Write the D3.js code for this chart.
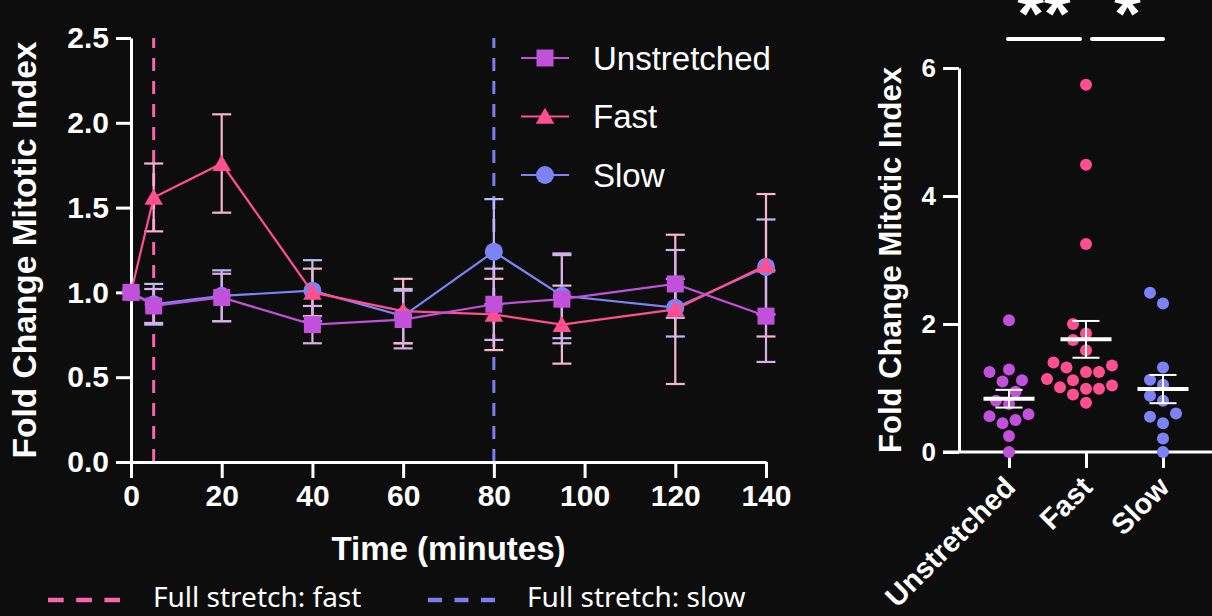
<!DOCTYPE html>
<html>
<head>
<meta charset="utf-8">
<script src="https://cdn.jsdelivr.net/npm/d3@7"></script>
<style>
  html, body { margin: 0; padding: 0; background: #0d0d0d; }
  svg { display: block; font-family: "Liberation Sans", Arial, sans-serif; }
  .axis path, .axis line { stroke: #fff; stroke-width: 3; }
  .axis text { fill: #fff; font-weight: bold; }
</style>
</head>
<body>
<svg id="fig" width="1212" height="616"></svg>
<script>
// time course (left panel)
var times = [0, 5, 20, 40, 60, 80, 95, 120, 140];
var unstretchedMean = [1.00, 0.92, 0.97, 0.81, 0.84, 0.93, 0.96, 1.05, 0.86];
var unstretchedSem  = [0, 0.10, 0.14, 0.11, 0.17, 0.21, 0.26, 0.20, 0.27];
var fastMean = [1.00, 1.56, 1.76, 1.00, 0.89, 0.87, 0.81, 0.90, 1.16];
var fastSem  = [0, 0.20, 0.29, 0.14, 0.19, 0.21, 0.23, 0.44, 0.42];
var slowMean = [1.00, 0.93, 0.98, 1.01, 0.86, 1.24, 0.98, 0.91, 1.15];
var slowSem  = [0, 0.12, 0.15, 0.18, 0.16, 0.31, 0.25, 0.17, 0.28];
var stretchTimes = [5, 80];
var yTicksLeft = [0, 0.5, 1.0, 1.5, 2.0, 2.5];
var xTicksLeft = [0, 20, 40, 60, 80, 100, 120, 140];

// individual values (right panel)
var dotCategories = ["Unstretched", "Fast", "Slow"];
var unstretchedDots = [2.06, 1.29, 1.25, 1.12, 1.10, 0.94, 0.80, 0.75, 0.59, 0.56, 0.50, 0.45, 0.25, 0.00];
var fastDots = [5.74, 4.49, 3.25, 2.00, 1.85, 1.75, 1.59, 1.40, 1.35, 1.32, 1.25, 1.25, 1.14, 1.12, 1.04, 1.01, 0.99, 0.99, 0.90, 0.77];
var slowDots = [2.49, 2.32, 1.32, 1.13, 1.05, 0.88, 0.80, 0.60, 0.55, 0.45, 0.21, 0.00];
var yTicksRight = [0, 2, 4, 6];
var sigLabels = ["**", "*"];

var colors = { Unstretched: "#c150da", Fast: "#ff4f8e", Slow: "#7d83f6" };
var barColors = { Unstretched: "#d6b0e6", Fast: "#f6b6cd", Slow: "#bbbbf2" };

var svg = d3.select("#fig");
svg.append("rect").attr("width", 1212).attr("height", 616).attr("fill", "#0d0d0d");

// ---------- left panel ----------
var x = d3.scaleLinear().domain([0, 140]).range([131, 766]);
var y = d3.scaleLinear().domain([0, 2.5]).range([462, 38]);

var left = svg.append("g");

// full stretch markers
left.selectAll(".stretch")
  .data(stretchTimes)
  .enter().append("line")
  .attr("x1", function(d) { return x(d); })
  .attr("x2", function(d) { return x(d); })
  .attr("y1", y(0)).attr("y2", y(2.5))
  .attr("stroke", function(d, i) { return i == 0 ? "#f766a8" : "#7b7ff0"; })
  .attr("stroke-width", 3)
  .attr("stroke-dasharray", "13,10");

var yAxisL = left.append("g").attr("class", "axis")
  .attr("transform", "translate(131,0)")
  .call(d3.axisLeft(y).tickValues(yTicksLeft).tickFormat(d3.format(".1f")).tickSize(15).tickPadding(7).tickSizeOuter(0));
yAxisL.selectAll("text").style("font-size", "30px");

var xAxisL = left.append("g").attr("class", "axis")
  .attr("transform", "translate(0,462)")
  .call(d3.axisBottom(x).tickValues(xTicksLeft).tickSize(16).tickPadding(7).tickSizeOuter(0));
xAxisL.selectAll("text").style("font-size", "30px");

left.append("text")
  .attr("x", x(70)).attr("y", 560)
  .attr("text-anchor", "middle")
  .attr("fill", "#fff").attr("font-weight", "bold").attr("font-size", 33)
  .text("Time (minutes)");

left.append("text")
  .attr("transform", "translate(36," + y(1.25) + ") rotate(-90)")
  .attr("text-anchor", "middle")
  .attr("fill", "#fff").attr("font-weight", "bold").attr("font-size", 33.5)
  .text("Fold Change Mitotic Index");

var series = [
  { name: "Slow", mean: slowMean, sem: slowSem, symbol: d3.symbolCircle, size: 254 },
  { name: "Fast", mean: fastMean, sem: fastSem, symbol: d3.symbolTriangle, size: 150 },
  { name: "Unstretched", mean: unstretchedMean, sem: unstretchedSem, symbol: d3.symbolSquare, size: 289 }
];

series.forEach(function(s) {
  var pts = times.map(function(t, i) { return { t: t, m: s.mean[i], e: s.sem[i] }; });
  var bars = left.append("g").selectAll("g")
    .data(pts.filter(function(p) { return p.e > 0; }))
    .enter().append("g")
    .attr("stroke", barColors[s.name]).attr("stroke-width", 2.2);
  bars.append("line")
    .attr("x1", function(p) { return x(p.t); }).attr("x2", function(p) { return x(p.t); })
    .attr("y1", function(p) { return y(p.m - p.e); }).attr("y2", function(p) { return y(p.m + p.e); });
  bars.append("line")
    .attr("x1", function(p) { return x(p.t) - 9.5; }).attr("x2", function(p) { return x(p.t) + 9.5; })
    .attr("y1", function(p) { return y(p.m + p.e); }).attr("y2", function(p) { return y(p.m + p.e); });
  bars.append("line")
    .attr("x1", function(p) { return x(p.t) - 9.5; }).attr("x2", function(p) { return x(p.t) + 9.5; })
    .attr("y1", function(p) { return y(p.m - p.e); }).attr("y2", function(p) { return y(p.m - p.e); });
});

series.forEach(function(s) {
  var pts = times.map(function(t, i) { return { t: t, m: s.mean[i] }; });
  left.append("path")
    .datum(pts)
    .attr("fill", "none")
    .attr("stroke", colors[s.name]).attr("stroke-width", 2.2)
    .attr("d", d3.line().x(function(p) { return x(p.t); }).y(function(p) { return y(p.m); }));
  left.append("g").selectAll("path")
    .data(pts)
    .enter().append("path")
    .attr("transform", function(p) {
      var dy = s.symbol == d3.symbolTriangle ? 2 : 0;
      return "translate(" + x(p.t) + "," + (y(p.m) + dy) + ")";
    })
    .attr("fill", colors[s.name])
    .attr("d", d3.symbol().type(s.symbol).size(s.size));
});

// legend
var legendOrder = ["Unstretched", "Fast", "Slow"];
var legend = left.append("g").selectAll("g")
  .data(legendOrder)
  .enter().append("g")
  .attr("transform", function(d, i) { return "translate(521," + (58 + i * 58.5) + ")"; });
legend.append("line")
  .attr("x1", 0).attr("x2", 48)
  .attr("stroke", function(d) { return colors[d]; }).attr("stroke-width", 2.2);
legend.append("path")
  .attr("transform", function(d) { return "translate(24," + (d == "Fast" ? 2 : 0) + ")"; })
  .attr("fill", function(d) { return colors[d]; })
  .attr("d", function(d) {
    var s = series.filter(function(q) { return q.name == d; })[0];
    return d3.symbol().type(s.symbol).size(s.size)();
  });
legend.append("text")
  .attr("x", 72).attr("dy", "0.36em")
  .attr("fill", "#fff").attr("font-size", 33)
  .text(function(d) { return d; });

// bottom legend for dashed lines
var stretchLegend = [
  { label: "Full stretch: fast", color: "#f766a8", x0: 48, tx: 105 },
  { label: "Full stretch: slow", color: "#7b7ff0", x0: 428, tx: 99 }
];
var sl = svg.append("g").selectAll("g")
  .data(stretchLegend)
  .enter().append("g")
  .attr("transform", function(d) { return "translate(" + d.x0 + ",600)"; });
sl.append("line")
  .attr("x1", 0).attr("x2", function(d, i) { return i == 0 ? 72 : 67; })
  .attr("stroke", function(d) { return d.color; }).attr("stroke-width", 4.5)
  .attr("stroke-dasharray", function(d, i) { return i == 0 ? "15.7,12.5" : "14,12.5"; });
sl.append("text")
  .attr("x", function(d) { return d.tx; }).attr("y", 7)
  .attr("fill", "#fff").attr("font-size", 28)
  .style("font-family", "'Noto Sans', sans-serif")
  .text(function(d) { return d.label; });

// ---------- right panel ----------
var xr = d3.scalePoint().domain(dotCategories).range([1009, 1163]);
var yr = d3.scaleLinear().domain([0, 6]).range([452, 68]);

var right = svg.append("g");

var yAxisR = right.append("g").attr("class", "axis")
  .attr("transform", "translate(959,0)")
  .call(d3.axisLeft(yr).tickValues(yTicksRight).tickFormat(d3.format("d")).tickSize(16).tickPadding(7).tickSizeOuter(0));
yAxisR.selectAll("text").style("font-size", "26px");

var xAxisR = right.append("g").attr("class", "axis")
  .attr("transform", "translate(0,452)")
  .call(d3.axisBottom(xr).tickSize(16).tickSizeOuter(0).tickFormat(""));
xAxisR.select(".domain").attr("d", "M943,0H1212");

right.append("g").selectAll("text")
  .data(dotCategories)
  .enter().append("text")
  .attr("transform", function(d) { return "translate(" + (xr(d) + 8) + ",489) rotate(-45)"; })
  .attr("text-anchor", "end")
  .attr("fill", "#fff").attr("font-weight", "bold").attr("font-size", 29)
  .text(function(d) { return d; });

right.append("text")
  .attr("transform", "translate(901," + yr(3) + ") rotate(-90)")
  .attr("text-anchor", "middle")
  .attr("fill", "#fff").attr("font-weight", "bold").attr("font-size", 31)
  .text("Fold Change Mitotic Index");

// simple beeswarm: place from the bottom up, nearest free slot to the centre
function swarm(values, cx, diam) {
  var placed = [];
  var sorted = values.slice().sort(function(a, b) { return a - b; });
  sorted.forEach(function(v) {
    var py = yr(v);
    var step = diam / 2;
    for (var k = 0; k < 40; k++) {
      var off = (k % 2 == 1 ? -1 : 1) * Math.ceil(k / 2) * step;
      var ok = placed.every(function(p) {
        var dx = p.x - (cx + off), dy = p.y - py;
        return dx * dx + dy * dy >= diam * diam - 0.01;
      });
      if (ok) { placed.push({ x: cx + off, y: py, v: v }); break; }
    }
  });
  return placed;
}

var groups = [
  { name: "Unstretched", values: unstretchedDots },
  { name: "Fast", values: fastDots },
  { name: "Slow", values: slowDots }
];

groups.forEach(function(g) {
  var cx = xr(g.name);
  right.append("g").selectAll("circle")
    .data(swarm(g.values, cx, 13))
    .enter().append("circle")
    .attr("cx", function(p) { return p.x; })
    .attr("cy", function(p) { return p.y; })
    .attr("r", 6)
    .attr("fill", colors[g.name]);

  var m = d3.mean(g.values);
  var sem = d3.deviation(g.values) / Math.sqrt(g.values.length);
  var st = right.append("g").attr("stroke", "#fff");
  st.append("line").attr("x1", cx - 25.5).attr("x2", cx + 25.5)
    .attr("y1", yr(m)).attr("y2", yr(m)).attr("stroke-width", 4);
  st.append("line").attr("x1", cx).attr("x2", cx)
    .attr("y1", yr(m - sem)).attr("y2", yr(m + sem)).attr("stroke-width", 2);
  [m - sem, m + sem].forEach(function(v) {
    st.append("line").attr("x1", cx - 13.5).attr("x2", cx + 13.5)
      .attr("y1", yr(v)).attr("y2", yr(v)).attr("stroke-width", 2);
  });
});

// significance brackets
var sigPairs = [
  { a: xr("Unstretched") - 1, b: xr("Fast") - 6, label: sigLabels[0] },
  { a: xr("Fast") + 6, b: xr("Slow"), label: sigLabels[1] }
];
var sig = right.append("g").selectAll("g").data(sigPairs).enter().append("g");
sig.append("line")
  .attr("x1", function(d) { return d.a; }).attr("x2", function(d) { return d.b; })
  .attr("y1", 39).attr("y2", 39)
  .attr("stroke", "#fff").attr("stroke-width", 4).attr("stroke-linecap", "round");
sig.append("text")
  .attr("x", function(d) { return (d.a + d.b) / 2; }).attr("y", 37)
  .attr("text-anchor", "middle")
  .attr("fill", "#fff").attr("font-weight", "bold").attr("font-size", 68)
  .text(function(d) { return d.label; });
</script>
</body>
</html>
